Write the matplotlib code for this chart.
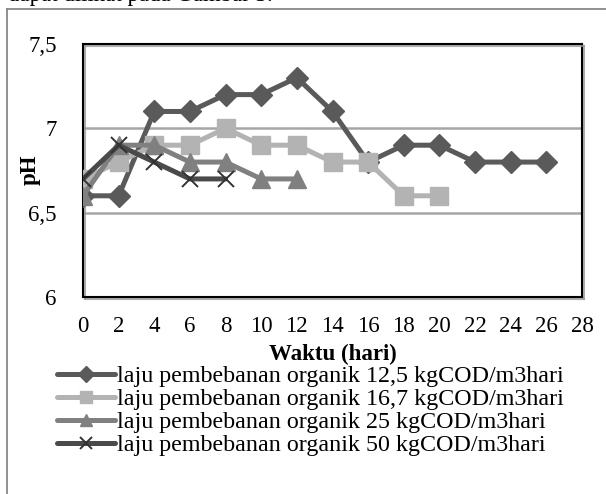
import matplotlib
matplotlib.use("Agg")
import matplotlib.pyplot as plt
from matplotlib.lines import Line2D
import matplotlib.patheffects as pe

plt.rcParams['font.family'] = ['Liberation Serif', 'DejaVu Serif']

days1 = [0, 2, 4, 6, 8, 10, 12, 14, 16, 18, 20, 22, 24, 26]
ph1 = [6.6, 6.6, 7.1, 7.1, 7.2, 7.2, 7.3, 7.1, 6.8, 6.9, 6.9, 6.8, 6.8, 6.8]
days2 = [0, 2, 4, 6, 8, 10, 12, 14, 16, 18, 20]
ph2 = [6.7, 6.8, 6.9, 6.9, 7.0, 6.9, 6.9, 6.8, 6.8, 6.6, 6.6]
days3 = [0, 2, 4, 6, 8, 10, 12]
ph3 = [6.6, 6.9, 6.9, 6.8, 6.8, 6.7, 6.7]
days4 = [0, 2, 4, 6, 8]
ph4 = [6.7, 6.9, 6.8, 6.7, 6.7]

labels = ["laju pembebanan organik 12,5 kgCOD/m3hari",
          "laju pembebanan organik 16,7 kgCOD/m3hari",
          "laju pembebanan organik 25 kgCOD/m3hari",
          "laju pembebanan organik 50 kgCOD/m3hari"]
xticks = list(range(0, 29, 2))
yticks = [6, 6.5, 7, 7.5]
yticklabels = ["6", "6,5", "7", "7,5"]

FS = 16.5
LFS = 17.3
W, H = 606, 494
fig = plt.figure(figsize=(W / 100, H / 100), dpi=100)
# outer frame lines (document chart border)
fig.add_artist(Line2D([7/W, 7/W], [0, 1 - 9/H], color='#888888', lw=1.3, transform=fig.transFigure))
fig.add_artist(Line2D([7/W, 1], [1 - 9/H, 1 - 9/H], color='#888888', lw=1.3, transform=fig.transFigure))
fig.text(8/W, 1 - 1/H, "dapat dilihat pada Gambar 3.", fontsize=FS, va='baseline', ha='left')

ax = fig.add_axes([83/W, 1 - 297/H, (582 - 83)/W, (297 - 44)/H])
ax.set_xlim(0, 28)
ax.set_ylim(6, 7.5)
for y in [6.5, 7.0]:
    ax.axhline(y, color='#a6a6a6', lw=1.8, zorder=1)

shadow = [pe.SimpleLineShadow(offset=(1.5, -1.5), shadow_color='#999999', alpha=0.8), pe.Normal()]

common = dict(lw=3.6, solid_capstyle='round', solid_joinstyle='round')
ax.plot(days1, ph1, color='#5a5a5a', marker='D', ms=11, mec='#5a5a5a', label=labels[0], zorder=3, **common)
ax.plot(days2, ph2, color='#b3b3b3', marker='s', ms=13, mec='#b3b3b3', label=labels[1], zorder=4, **common)
ax.plot(days3, ph3, color='#808080', marker='^', ms=13, mec='#808080', label=labels[2], zorder=5, **common)
ax.plot(days4, ph4, color='#4a4a4a', marker='x', ms=12, mew=1.4, mec='#333333', label=labels[3], zorder=6, **common)

ax.set_xticks(xticks)
ax.set_yticks(yticks)
ax.set_yticklabels(yticklabels)
ax.tick_params(axis='both', length=0, labelsize=FS)
ax.tick_params(axis='y', pad=19)
ax.tick_params(axis='x', pad=14)
for s in ax.spines.values():
    s.set_color('black')
    s.set_linewidth(1.5)
    s.set_path_effects(shadow)
ax.set_xlabel("Waktu (hari)", fontsize=FS, fontweight='bold')
ax.xaxis.set_label_coords((333 - 83) / (582 - 83), -(354 - 297) / (297 - 44))
ax.xaxis.label.set_va('center')
ax.set_ylabel("pH", fontsize=FS, fontweight='bold')
ax.yaxis.set_label_coords(-(83 - 30) / (582 - 83), (297 - 170) / (297 - 44))
ax.yaxis.label.set_va('center')

leg = ax.legend(loc='upper left', bbox_to_anchor=(57/W, 1 - 365.5/H), bbox_transform=fig.transFigure,
                frameon=False, fontsize=LFS, handlelength=2.4, handletextpad=0.1, labelspacing=0.05,
                borderpad=0, borderaxespad=0, markerscale=0.7)

fig.savefig("out.png", dpi=100)
